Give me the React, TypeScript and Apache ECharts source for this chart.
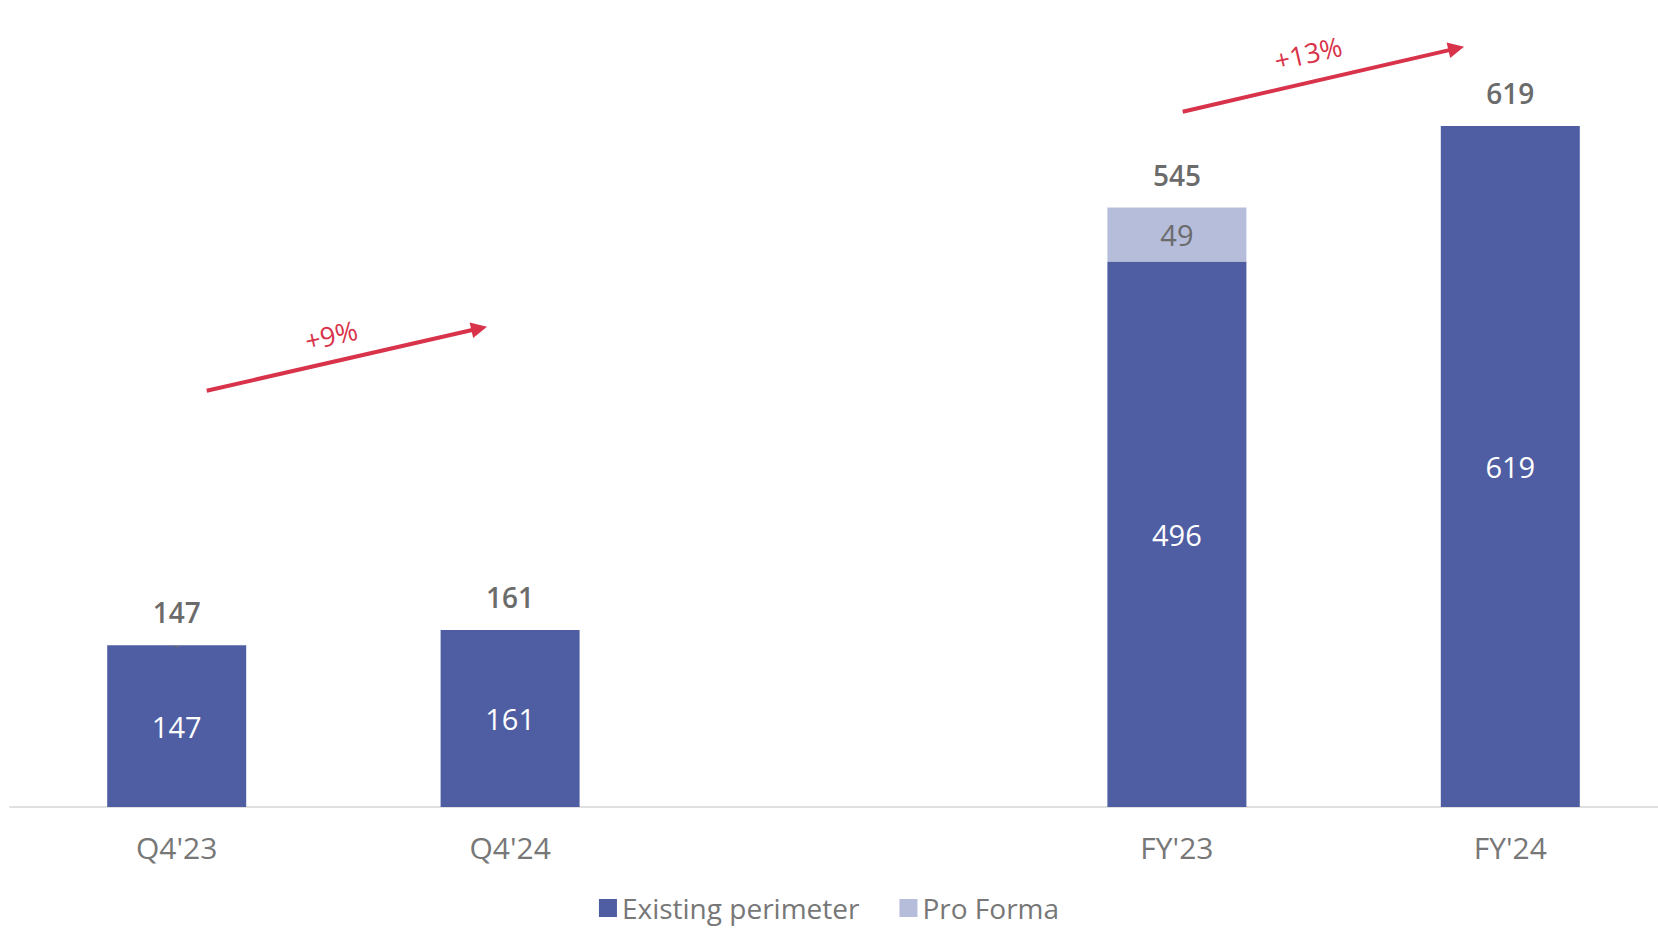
import React, { useEffect, useRef } from "react";
import * as echarts from "echarts";

const categories = ["Q4'23", "Q4'24", "", "FY'23", "FY'24"];
const existingPerimeter = [147, 161, null, 496, 619];
const proForma = [0, null, null, 49, null];
const totals = [147, 161, null, 545, 619];
const growthLabels = ["+9%", "+13%"];

const FONT = "'Open Sans', 'Noto Sans', sans-serif";
const RED = "#d8334a";
const BLUE = "#4f5ea3";
const LIGHT = "#b5bddb";
const GRAY = "#6b6b6b";

function arrow(start: number[], tip: number[], label: string, labelPos: number[]) {
  const dx = tip[0] - start[0];
  const dy = tip[1] - start[1];
  const len = Math.sqrt(dx * dx + dy * dy);
  const ux = dx / len;
  const uy = dy / len;
  const head = 16;
  const half = 8;
  const bx = tip[0] - head * ux;
  const by = tip[1] - head * uy;
  const nx = -uy;
  const ny = ux;
  const angle = Math.atan2(-dy, dx);
  return [
    {
      type: "line",
      shape: { x1: start[0], y1: start[1], x2: bx + ux * 2, y2: by + uy * 2 },
      style: { stroke: RED, lineWidth: 4 },
    },
    {
      type: "polygon",
      shape: {
        points: [
          [tip[0], tip[1]],
          [bx + half * nx, by + half * ny],
          [bx - half * nx, by - half * ny],
        ],
      },
      style: { fill: RED },
    },
    {
      type: "text",
      x: labelPos[0],
      y: labelPos[1],
      rotation: angle,
      style: {
        text: label,
        fill: RED,
        font: `400 27px ${FONT}`,
        align: "center",
        verticalAlign: "middle",
      },
    },
  ];
}

export default function App() {
  const ref = useRef<HTMLDivElement>(null);

  useEffect(() => {
    if (!ref.current) return;
    const chart = echarts.init(ref.current, null, { renderer: "svg" });
    chart.setOption({
      animation: false,
      backgroundColor: "#ffffff",
      grid: {
        left: 10,
        top: 37,
        width: 1667,
        height: 770,
        containLabel: false,
        outerBoundsMode: "none",
      },
      legend: {
        data: ["Existing perimeter", "Pro Forma"],
        top: 889,
        left: "center",
        itemWidth: 18,
        itemHeight: 18,
        itemGap: 40,
        icon: "rect",
        textStyle: { fontFamily: FONT, fontSize: 28, color: "#777777" },
      },
      xAxis: {
        type: "category",
        data: categories,
        axisLine: { show: true, lineStyle: { color: "#e0e0e0", width: 2 } },
        axisTick: { show: false },
        axisLabel: { fontFamily: FONT, fontSize: 30, color: "#777777", margin: 25 },
      },
      yAxis: {
        type: "value",
        min: 0,
        max: 700,
        show: false,
        splitLine: { show: false },
      },
      series: [
        {
          name: "Existing perimeter",
          type: "bar",
          stack: "a",
          barWidth: 139,
          data: existingPerimeter,
          itemStyle: { color: BLUE },
          label: {
            show: true,
            position: "inside",
            fontFamily: FONT,
            fontSize: 29,
            color: "#ffffff",
          },
        },
        {
          name: "Pro Forma",
          type: "bar",
          stack: "a",
          barWidth: 139,
          data: proForma,
          itemStyle: { color: LIGHT },
          label: {
            show: true,
            position: "inside",
            fontFamily: FONT,
            fontSize: 29,
            color: GRAY,
            formatter: (p: any) => (p.value === 0 ? "{d|-}" : String(p.value)),
            rich: { d: { fontSize: 16, color: GRAY, fontFamily: FONT } },
          },
        },
        {
          name: "Total",
          type: "bar",
          barWidth: 139,
          barGap: "-100%",
          data: totals,
          z: 0,
          silent: true,
          itemStyle: { color: "rgba(0,0,0,0)" },
          label: {
            show: true,
            position: "top",
            distance: 19,
            fontFamily: FONT,
            fontSize: 28,
            fontWeight: 600,
            color: GRAY,
          },
        },
      ],
      graphic: [
        ...arrow([206.7, 390.7], [487, 326.7], growthLabels[0], [331, 335]),
        ...arrow([1182.7, 111.7], [1464, 46.7], growthLabels[1], [1308, 53]),
      ],
    });
    return () => chart.dispose();
  }, []);

  return (
    <div
      ref={ref}
      style={{ position: "fixed", left: 0, top: 0, width: 1658, height: 928 }}
    />
  );
}
